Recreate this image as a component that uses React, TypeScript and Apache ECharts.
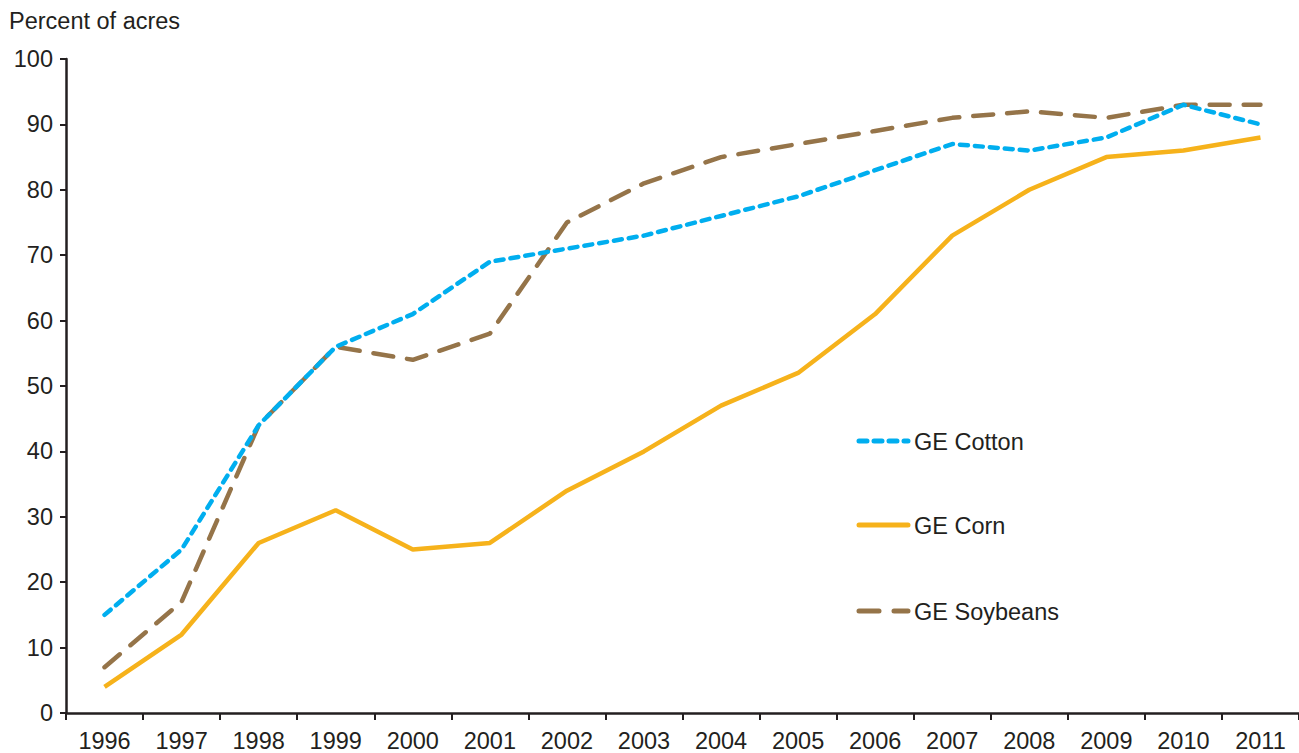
import React, { useEffect, useRef } from "react";
import * as echarts from "echarts";

const years = ["1996","1997","1998","1999","2000","2001","2002","2003","2004","2005","2006","2007","2008","2009","2010","2011"];
const cotton = [15, 25, 44, 56, 61, 69, 71, 73, 76, 79, 83, 87, 86, 88, 93, 90];
const corn = [4, 12, 26, 31, 25, 26, 34, 40, 47, 52, 61, 73, 80, 85, 86, 88];
const soybeans = [7, 17, 44, 56, 54, 58, 75, 81, 85, 87, 89, 91, 92, 91, 93, 93];
const seriesNames = ["GE Cotton", "GE Corn", "GE Soybeans"];

const FONT = "'Liberation Sans', Arial, Helvetica, sans-serif";
const INK = "#231f20";
const FS = 23.5;
const styles = [
  { color: "#00aeef" },
  { color: "#f6b21b" },
  { color: "#957449" },
];
const legendY = [441, 525, 611];

export default function App() {
  const ref = useRef<HTMLDivElement>(null);
  useEffect(() => {
    const chart = echarts.init(ref.current!, null, { renderer: "svg" });
    const legendGraphics: any[] = [];
    seriesNames.forEach((name, i) => {
      legendGraphics.push({
        type: "line",
        shape: { x1: 859, y1: legendY[i], x2: 908, y2: legendY[i] },
        style: {
          stroke: styles[i].color,
          lineWidth: 5,
          lineCap: "round",
          lineDash: i === 0 ? [8, 7] : i === 2 ? [20, 15] : null,
        },
      });
      legendGraphics.push({
        type: "text",
        x: 914,
        y: legendY[i] + 1,
        style: { text: name, font: `${FS}px ${FONT}`, fill: INK, verticalAlign: "middle" },
      });
    });
    chart.setOption({
      animation: false,
      backgroundColor: "#ffffff",
      textStyle: { fontFamily: FONT },
      graphic: [
        { type: "text", x: 9, y: 9, style: { text: "Percent of acres", font: `${FS}px ${FONT}`, fill: INK } },
        ...legendGraphics,
      ],
      grid: { left: 66, top: 59, width: 1240, height: 656, containLabel: false },
      xAxis: {
        type: "category",
        data: years,
        boundaryGap: true,
        axisLine: { lineStyle: { color: INK, width: 2.5 } },
        axisTick: { show: true, length: 7, lineStyle: { color: INK, width: 2 } },
        axisLabel: { fontSize: FS, color: INK, margin: 16, fontFamily: FONT },
        splitLine: { show: false },
      },
      yAxis: {
        type: "value",
        min: 0,
        max: 100,
        interval: 10,
        axisLine: { show: true, lineStyle: { color: INK, width: 2.5 } },
        axisTick: { show: true, length: 6, lineStyle: { color: INK, width: 2 } },
        axisLabel: { fontSize: FS, color: INK, margin: 13, fontFamily: FONT },
        splitLine: { show: false },
      },
      series: [
        {
          name: seriesNames[0],
          type: "line",
          data: cotton,
          symbol: "none",
          color: styles[0].color,
          lineStyle: { color: styles[0].color, width: 4.5, type: [8, 7], cap: "round" },
          z: 3,
        },
        {
          name: seriesNames[1],
          type: "line",
          data: corn,
          symbol: "none",
          color: styles[1].color,
          lineStyle: { color: styles[1].color, width: 4.5 },
          z: 2,
        },
        {
          name: seriesNames[2],
          type: "line",
          data: soybeans,
          symbol: "none",
          color: styles[2].color,
          lineStyle: { color: styles[2].color, width: 4.5, type: [20, 14], cap: "round" },
          z: 1,
        },
      ],
    });
    return () => chart.dispose();
  }, []);
  return <div ref={ref} style={{ width: 1299, height: 753, position: "absolute", left: 0, top: 0 }} />;
}
